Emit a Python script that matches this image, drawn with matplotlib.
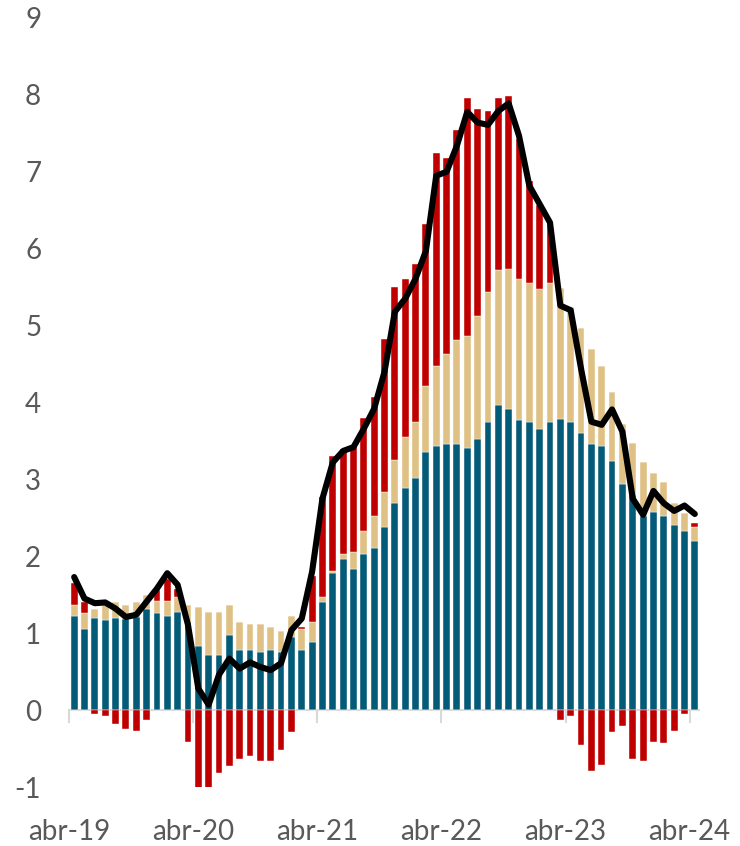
import matplotlib
matplotlib.use("Agg")
import matplotlib.pyplot as plt
import numpy as np

# monthly, abr-19 .. abr-24 (61 months)
teal = [1.23, 1.06, 1.20, 1.17, 1.20, 1.18, 1.21, 1.31, 1.26, 1.23, 1.28, 1.14,
        0.84, 0.72, 0.72, 0.98, 0.78, 0.78, 0.76, 0.78, 0.76, 0.95, 0.78, 0.89,
        1.40, 1.78, 1.97, 1.83, 2.03, 2.11, 2.38, 2.69, 2.89, 3.02, 3.36, 3.44,
        3.46, 3.46, 3.41, 3.53, 3.75, 3.97, 3.91, 3.77, 3.75, 3.66, 3.75, 3.78,
        3.75, 3.60, 3.46, 3.43, 3.24, 2.94, 2.80, 2.53, 2.58, 2.53, 2.41, 2.33,
        2.20]
tan = [0.14, 0.20, 0.12, 0.22, 0.20, 0.19, 0.19, 0.19, 0.16, 0.19, 0.19, 0.23,
       0.50, 0.56, 0.56, 0.39, 0.37, 0.34, 0.36, 0.30, 0.27, 0.28, 0.28, 0.26,
       0.07, 0.03, 0.06, 0.23, 0.30, 0.42, 0.46, 0.56, 0.66, 0.73, 0.86, 1.03,
       1.17, 1.35, 1.45, 1.60, 1.69, 1.75, 1.83, 1.83, 1.80, 1.81, 1.80, 1.71,
       1.49, 1.37, 1.23, 1.04, 0.90, 0.78, 0.67, 0.69, 0.50, 0.44, 0.28, 0.23,
       0.18]
red = [0.28, 0.14, -0.05, -0.08, -0.18, -0.24, -0.27, -0.13, 0.14, 0.29, 0.11, -0.41,
       -1.02, -1.02, -0.82, -0.73, -0.63, -0.60, -0.66, -0.66, -0.52, -0.29, 0.02, 0.60,
       1.30, 1.50, 1.36, 1.37, 1.47, 1.54, 1.99, 2.25, 2.06, 2.05, 2.10, 2.77,
       2.55, 2.73, 3.10, 2.69, 2.35, 2.24, 2.25, 1.83, 1.33, 1.10, 0.80, -0.13,
       -0.08, -0.46, -0.79, -0.71, -0.29, -0.21, -0.63, -0.66, -0.41, -0.43, -0.27, -0.05,
       0.05]
total = [1.73, 1.45, 1.39, 1.40, 1.32, 1.21, 1.24, 1.41, 1.58, 1.78, 1.63, 1.11,
         0.28, 0.07, 0.46, 0.67, 0.54, 0.62, 0.56, 0.52, 0.61, 1.04, 1.19, 1.80,
         2.75, 3.22, 3.37, 3.42, 3.66, 3.92, 4.40, 5.18, 5.35, 5.61, 5.97, 6.95,
         7.00, 7.34, 7.78, 7.64, 7.61, 7.79, 7.89, 7.47, 6.82, 6.58, 6.34, 5.26,
         5.20, 4.44, 3.75, 3.71, 3.91, 3.62, 2.75, 2.54, 2.85, 2.69, 2.59, 2.66,
         2.55]
tick_labels = ["abr-19", "abr-20", "abr-21", "abr-22", "abr-23", "abr-24"]

c_teal = "#045b78"
c_tan = "#dfc085"
c_red = "#c00000"
c_text = "#595959"

x = np.arange(len(teal))
teal = np.array(teal)
tan = np.array(tan)
red = np.array(red)

plt.rcParams["font.family"] = ["Lato", "DejaVu Sans"]
plt.rcParams["axes.unicode_minus"] = False

fig = plt.figure(figsize=(7.4, 8.46), dpi=100)
ax = fig.add_axes([69 / 740, 59 / 846, 631 / 740, 769 / 846])

w = 0.66
ax.bar(x, teal, w, color=c_teal, edgecolor="white", linewidth=0.3, zorder=2)
ax.bar(x, tan, w, bottom=teal, color=c_tan, edgecolor="white", linewidth=0.3, zorder=2)
pos_red = np.where(red > 0, red, 0)
neg_red = np.where(red < 0, red, 0)
ax.bar(x, pos_red, w, bottom=teal + tan, color=c_red, edgecolor="white", linewidth=0.3, zorder=2)
ax.bar(x, neg_red, w, color=c_red, edgecolor="white", linewidth=0.3, zorder=2)
ax.plot(x, total, color="black", linewidth=4.4, solid_joinstyle="round",
        solid_capstyle="round", zorder=4)

ax.set_xlim(-0.5, 60.5)
ax.set_ylim(-1, 9)

# zero line with yearly ticks
ax.axhline(0, color="#d9d9d9", linewidth=1.5, zorder=1)
tick_pos = np.arange(-0.5, 61, 12)
for tp, lab in zip(tick_pos, tick_labels):
    ax.plot([tp, tp], [0, -0.15], color="#d9d9d9", linewidth=1.5, zorder=1, clip_on=False)
    ax.text(tp, -1.58, lab, ha="center", va="center", fontsize=20, color=c_text)

ax.set_xticks([])
ax.set_yticks(range(-1, 10))
ax.tick_params(axis="y", length=0, pad=20, labelsize=20, labelcolor=c_text)
for s in ax.spines.values():
    s.set_visible(False)

fig.savefig("out.png", dpi=100)
